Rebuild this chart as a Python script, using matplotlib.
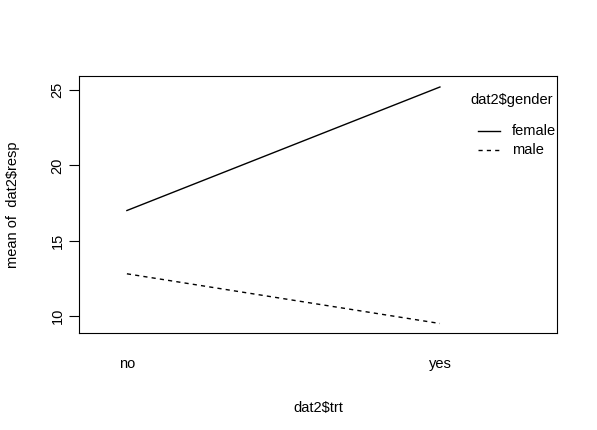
import matplotlib.pyplot as plt

plt.rcParams["font.family"] = ["Liberation Sans", "DejaVu Sans"]

trt = ["no", "yes"]
female = [17.0, 25.2]
male = [12.8, 9.5]
yticks = [10, 15, 20, 25]

fig = plt.figure(figsize=(5.97, 4.30), dpi=100)
ax = fig.add_axes([79 / 597, 97 / 430, 478 / 597, 257 / 430])
xs = [1, 2]
ax.plot(xs, female, color="black", lw=1, ls="-")
ax.plot(xs, male, color="black", lw=1, ls=(0, (3, 3)))
ax.set_xlim(0.847, 2.374)
ax.set_ylim(8.87, 25.93)
ax.set_xticks(xs)
ax.set_xticklabels(trt)
ax.tick_params(axis="x", length=0, pad=17, labelsize=10.5)
ax.set_yticks(yticks)
ax.set_yticklabels([str(v) for v in yticks], rotation=90, va="center")
ax.tick_params(axis="y", length=7, labelsize=10.5)
ax.set_xlabel("dat2$trt", fontsize=10.5, labelpad=22)
ax.set_ylabel("mean of  dat2$resp", fontsize=10.5, labelpad=22)

# legend in R style
fig.text(470 / 597, 1 - 100 / 430, "dat2$gender", fontsize=10.5, va="center")
for y, lab, ls in [(131, "female", "-"), (150, "male", (0, (3, 3)))]:
    fy = 1 - y / 430
    fig.add_artist(plt.Line2D([478 / 597, 500 / 597], [fy, fy], color="black", lw=1, ls=ls))
    fig.text(512 / 597, fy, lab, fontsize=10.5, va="center")

fig.savefig("out.png", dpi=100)
